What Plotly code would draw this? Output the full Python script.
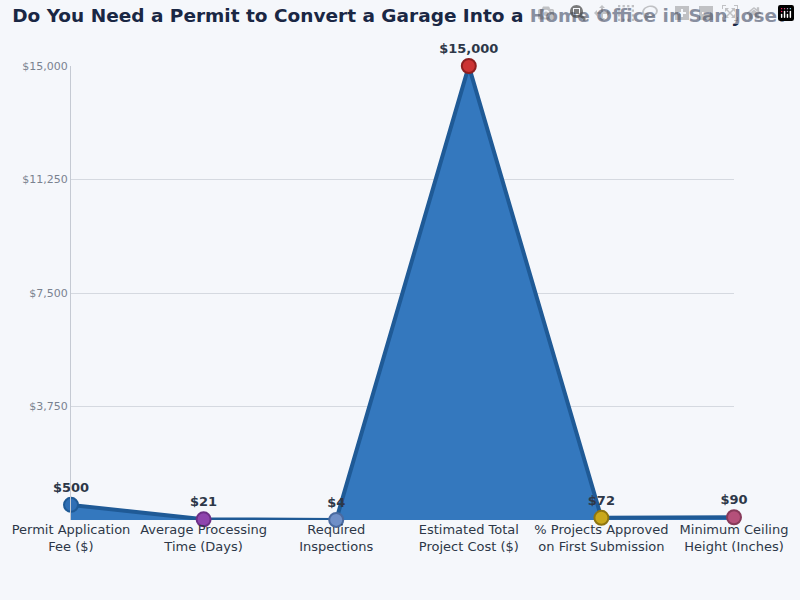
import plotly.graph_objects as go

categories = ["Permit Application<br>Fee ($)", "Average Processing<br>Time (Days)", "Required<br>Inspections",
              "Estimated Total<br>Project Cost ($)", "% Projects Approved<br>on First Submission", "Minimum Ceiling<br>Height (Inches)"]
values = [500, 21, 4, 15000, 72, 90]
labels = ["$500", "$21", "$4", "$15,000", "$72", "$90"]
marker_colors = ["#2f6fb5", "#8e44ad", "#6f8fc7", "#cc3333", "#c9a81c", "#b5507a"]
marker_lines = ["#1f5a96", "#6c2f86", "#4a6aa0", "#8e1f1f", "#8e7510", "#873a5a"]
tickvals = [0, 3750, 7500, 11250, 15000]
ticktext = ["", "$3,750", "$7,500", "$11,250", "$15,000"]

x = list(range(len(categories)))
fig = go.Figure()
fig.add_trace(go.Scatter(
    x=x, y=values, mode="lines+markers+text", fill="tozeroy",
    fillcolor="#3478be", line=dict(color="#1f5a96", width=4),
    marker=dict(size=14, color=marker_colors, line=dict(color=marker_lines, width=2)),
    text=labels, textposition="top center", cliponaxis=False,
    textfont=dict(size=13, color="#2d3748", family="DejaVu Sans", weight="bold"),
    hoverinfo="skip"))
fig.update_layout(
    width=800, height=600, showlegend=False,
    paper_bgcolor="#f5f7fb", plot_bgcolor="#f5f7fb",
    margin=dict(l=70, r=50, t=66, b=80),
    title=dict(text="<b>Do You Need a Permit to Convert a Garage Into a Home Office in San Jose?</b>",
               x=0.5, xanchor="center", y=0.985, yanchor="top",
               font=dict(size=18.5, color="#1a2744", family="DejaVu Sans")),
    font=dict(family="DejaVu Sans"),
    xaxis=dict(tickvals=x, ticktext=categories, range=[0, 5], showgrid=False, zeroline=False,
               tickfont=dict(size=13, color="#2d3748"), showline=False, ticklabeloverflow="allow"),
    yaxis=dict(range=[0, 15000], tickvals=tickvals, ticktext=ticktext, gridcolor="#d5d9e0",
               zeroline=False, showline=True, linecolor="#c5cad3",
               tickfont=dict(size=11, color="#7a8290")),
)
fig.write_html("out.html")
with open("out.html", encoding="utf-8") as f:
    html = f.read()
html = html.replace("<head>", "<head><style>body{margin:0;background:#f5f7fb;overflow:hidden}</style>", 1)
with open("out.html", "w", encoding="utf-8") as f:
    f.write(html)
